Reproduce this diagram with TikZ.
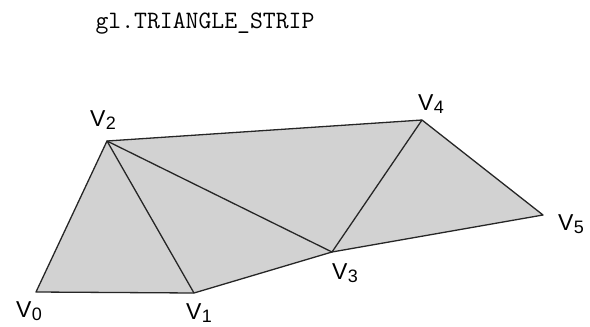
\documentclass[tikz,border=0pt]{standalone}
\usepackage{fontspec}
\setmainfont{Liberation Sans}
\newcommand\vsub[1]{V\kern0.5pt\raisebox{-3.5pt}{\fontsize{18}{18}\selectfont #1}}
\begin{document}
\begin{tikzpicture}[x=1pt,y=-1pt,
  edge/.style={draw=black!85, line width=1.3pt, line join=round},
  vlabel/.style={inner sep=0pt, font=\fontsize{23}{23}\selectfont}]
\useasboundingbox (0,0) rectangle (590,327);
\coordinate (v0) at (36,292);
\coordinate (v1) at (194,293);
\coordinate (v2) at (107,141);
\coordinate (v3) at (332,252);
\coordinate (v4) at (422,120);
\coordinate (v5) at (543,215);
\fill[gray!35] (v0) -- (v1) -- (v3) -- (v5) -- (v4) -- (v2) -- cycle;
\draw[edge] (v0) -- (v1) -- (v3) -- (v5) -- (v4) -- (v2) -- cycle;
\draw[edge] (v1) -- (v2) -- (v3) -- (v4);
\node[inner sep=0pt, anchor=base, font=\ttfamily\fontsize{25}{25}\selectfont] (title) at (205,28) {gl.TRIANGLE\_STRIP};
\node[vlabel] (l0) at (29,311) {\vsub{0}};
\node[vlabel] (l1) at (199,313) {\vsub{1}};
\node[vlabel] (l2) at (103,120) {\vsub{2}};
\node[vlabel] (l3) at (345,273) {\vsub{3}};
\node[vlabel] (l4) at (431,104) {\vsub{4}};
\node[vlabel] (l5) at (571,224) {\vsub{5}};
\end{tikzpicture}
\end{document}
